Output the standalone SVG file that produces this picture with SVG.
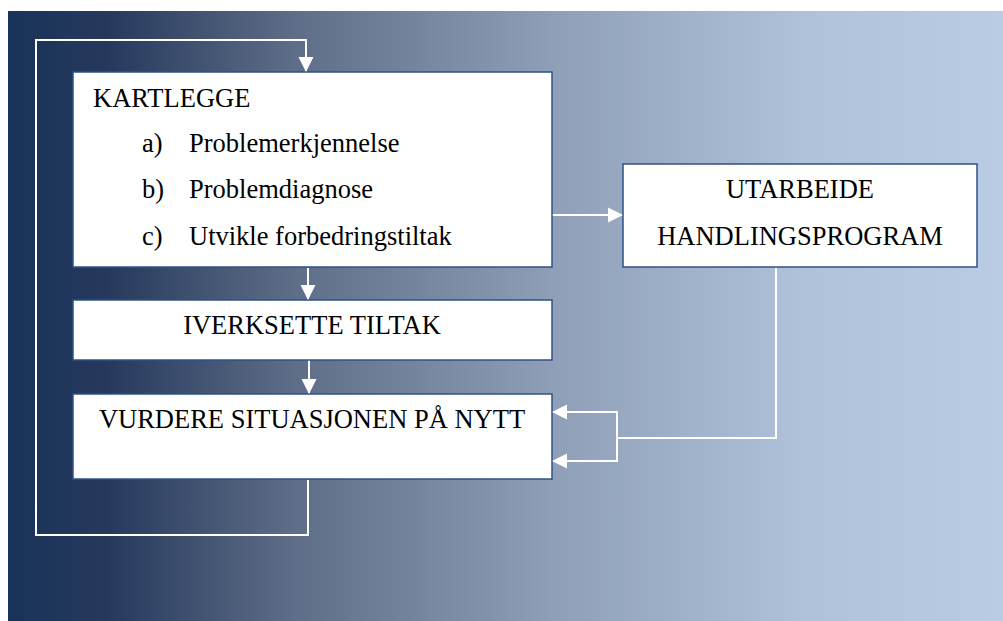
<svg xmlns="http://www.w3.org/2000/svg" width="1003" height="621" viewBox="0 0 1003 621">
  <defs>
    <linearGradient id="bg" x1="8" y1="0" x2="1003" y2="0" gradientUnits="userSpaceOnUse">
      <stop offset="0" stop-color="#19335a"/>
      <stop offset="0.1" stop-color="#26395c"/>
      <stop offset="0.29" stop-color="#5f6e88"/>
      <stop offset="0.55" stop-color="#8e9fb7"/>
      <stop offset="0.8" stop-color="#b0c2da"/>
      <stop offset="1" stop-color="#b9cce4"/>
    </linearGradient>
    <marker id="arrow" markerUnits="userSpaceOnUse" markerWidth="16" markerHeight="16" refX="15" refY="8" orient="auto">
      <path d="M0,0.5 L15,8 L0,15.5 Z" fill="#ffffff"/>
    </marker>
    <style>
      .box { fill: #ffffff; stroke: #2e5288; stroke-width: 1.5; }
      .txt { font-family: "Liberation Serif", "Times New Roman", serif; font-size: 26.5px; fill: #000000; }
      .mid { text-anchor: middle; }
      .link { fill: none; stroke: #ffffff; stroke-width: 2; }
      .arr { marker-end: url(#arrow); }
    </style>
  </defs>

  <!-- backdrop -->
  <rect x="8" y="11" width="995" height="610" fill="url(#bg)"/>

  <!-- connectors -->
  <g id="connectors">
    <!-- feedback loop back to the top -->
    <path class="link arr" d="M308,480 V535 H36 V40 H306 V72"/>
    <path class="link arr" d="M308,268 V300"/>
    <path class="link arr" d="M309,360 V394"/>
    <path class="link arr" d="M552,215 H623"/>
    <!-- action programme feeding back into re-evaluation -->
    <path class="link" d="M776,268 V438 H617"/>
    <path class="link" d="M617,411 V462"/>
    <path class="link arr" d="M618,412 H552"/>
    <path class="link arr" d="M618,461 H552"/>
  </g>

  <g id="kartlegge">
    <rect class="box" x="73" y="72" width="479" height="195"/>
    <text class="txt" x="93" y="107">KARTLEGGE</text>
    <text class="txt" x="142" y="152">a)</text>
    <text class="txt" x="189" y="152">Problemerkjennelse</text>
    <text class="txt" x="142" y="198">b)</text>
    <text class="txt" x="189" y="198">Problemdiagnose</text>
    <text class="txt" x="142" y="245">c)</text>
    <text class="txt" x="189" y="245">Utvikle forbedringstiltak</text>
  </g>

  <g id="iverksette">
    <rect class="box" x="73" y="300" width="479" height="60"/>
    <text class="txt mid" x="312" y="334">IVERKSETTE TILTAK</text>
  </g>

  <g id="vurdere">
    <rect class="box" x="73" y="394" width="479" height="85"/>
    <text class="txt mid" x="312" y="428">VURDERE SITUASJONEN PÅ NYTT</text>
  </g>

  <g id="utarbeide">
    <rect class="box" x="623" y="164" width="354" height="103"/>
    <text class="txt mid" x="800" y="198">UTARBEIDE</text>
    <text class="txt mid" x="800" y="245">HANDLINGSPROGRAM</text>
  </g>
</svg>
